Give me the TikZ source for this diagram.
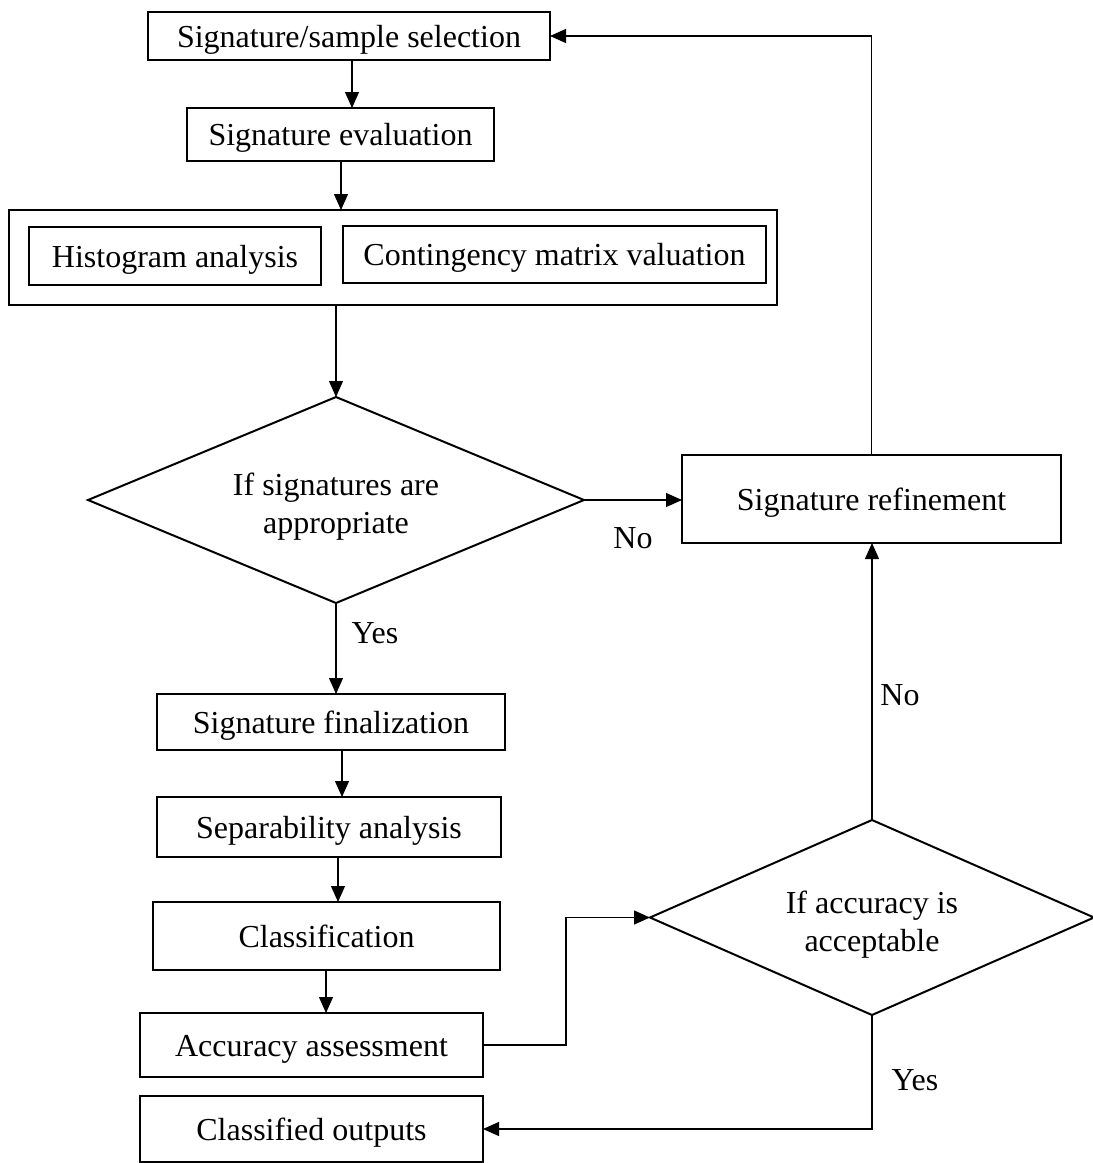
\documentclass[tikz,border=0pt]{standalone}
\usepackage{fontspec}
\setmainfont{Liberation Serif}
\usetikzlibrary{shapes.geometric,arrows.meta}
\begin{document}
\begin{tikzpicture}[x=1pt,y=-1pt,
  every node/.style={font=\fontsize{32}{38}\selectfont, inner sep=0pt, outer sep=0pt},
  box/.style={draw, line width=1.4pt, rectangle, text height=29pt, text depth=7pt},
  decision/.style={draw, line width=2pt, diamond, align=center},
  conn/.style={line width=1.2pt, -{Triangle[length=16pt,width=14pt]}},
  lbl/.style={}]
\useasboundingbox (0,0) rectangle (1093,1163);

% process boxes (centre, width, height)
\node[box, minimum width=402pt, minimum height=48pt] (sel) at (349,36) {Signature/sample selection};
\node[box, minimum width=307pt, minimum height=53pt] (eval) at (340.5,134.5) {Signature evaluation};
\node[box, minimum width=768pt, minimum height=95pt] (outer) at (393,257.5) {};
\node[box, minimum width=292pt, minimum height=58pt] (hist) at (175,256) {Histogram analysis};
\node[box, minimum width=423pt, minimum height=57pt] (cont) at (554.5,254.5) {Contingency matrix valuation};
\node[decision, shape aspect=2.41, minimum width=496pt, minimum height=206pt] (d1) at (336,500) {\rule{0pt}{36pt}If signatures are\\appropriate};
\node[box, minimum width=379pt, minimum height=88pt] (refine) at (871.5,499) {Signature refinement};
\node[box, minimum width=348pt, minimum height=56pt] (final) at (331,722) {Signature finalization};
\node[box, minimum width=344pt, minimum height=60pt] (sep) at (329,827) {Separability analysis};
\node[box, minimum width=347pt, minimum height=68pt] (cls) at (326.5,936) {Classification};
\node[box, minimum width=343pt, minimum height=64pt] (acc) at (311.5,1045) {Accuracy assessment};
\node[box, minimum width=343pt, minimum height=66pt] (out) at (311.5,1129) {Classified outputs};
\node[decision, shape aspect=2.28, minimum width=444pt, minimum height=195pt] (d2) at (872,917.5) {\rule{0pt}{36pt}If accuracy is\\acceptable};

% branch labels
\node[lbl] (yes1) at (375,633) {Yes};
\node[lbl] (no1) at (633,538) {No};
\node[lbl] (no2) at (900,695) {No};
\node[lbl] (yes2) at (915,1080) {Yes};

% main column
\draw[conn] (sel.south -| 352,0) -- (eval.north -| 352,0);
\draw[conn] (eval.south -| 341,0) -- (outer.north -| 341,0);
\draw[conn] (outer.south -| d1.north) -- (d1.north);
\draw[conn] (d1.south) -- (final.north -| d1.south);
\draw[conn] (final.south -| 342,0) -- (sep.north -| 342,0);
\draw[conn] (sep.south -| 338,0) -- (cls.north -| 338,0);
\draw[conn] (cls.south -| 326,0) -- (acc.north -| 326,0);

% feedback loops
\draw[conn] (d1.east) -- (refine.west |- d1.east);
\draw[conn] (refine.north) -- (refine.north |- sel.east) -- (sel.east);
\draw[conn] (d2.north) -- (refine.south -| d2.north);
\draw[conn] (acc.east) -- (566,1045) -- (566,917.5) -- (d2.west);
\draw[conn] (d2.south) -- (d2.south |- out.east) -- (out.east);
\end{tikzpicture}
\end{document}
